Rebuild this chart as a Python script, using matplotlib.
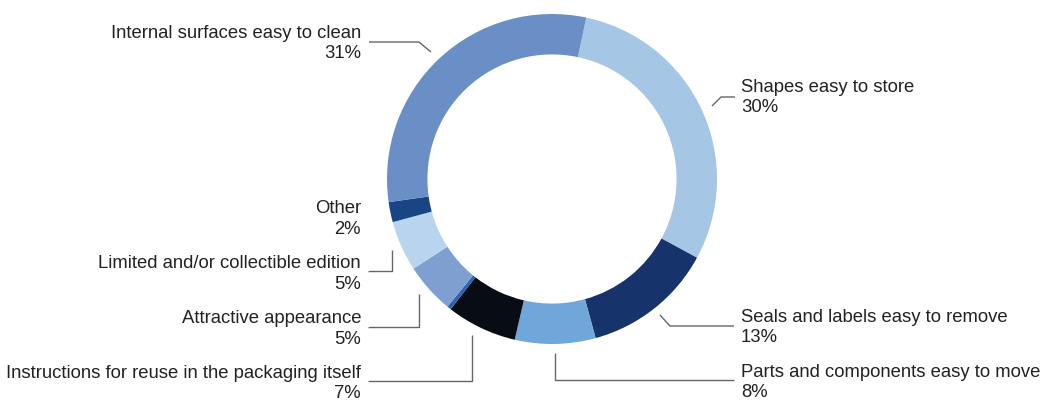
import matplotlib
matplotlib.use("Agg")
import matplotlib.pyplot as plt

# Segments listed clockwise, starting at the top right
categories = [
    "Shapes easy to store",
    "Seals and labels easy to remove",
    "Parts and components easy to move",
    "Instructions for reuse in the packaging itself",
    "",
    "Attractive appearance",
    "Limited and/or collectible edition",
    "Other",
    "Internal surfaces easy to clean",
]
values = [30, 13, 8, 7, 0.4, 5, 5, 2, 31]
pct_labels = ["30%", "13%", "8%", "7%", "", "5%", "5%", "2%", "31%"]
colors = ["#a6c6e5", "#17336b", "#6fa7da", "#080c14", "#2f64b0",
          "#7f9fd0", "#b9d4ef", "#1a4584", "#6a8fc6"]

W, H = 1041, 401
fig = plt.figure(figsize=(W / 100, H / 100), dpi=100)
ax = fig.add_axes([0, 0, 1, 1])

def Y(y):
    return H - y

cx, cy, R = 552, 179, 165
ax.pie(values, colors=colors, startangle=78, counterclock=False,
       center=(cx, Y(cy)), radius=R,
       wedgeprops=dict(width=R * 0.245, linewidth=0))
ax.set_xlim(0, W)
ax.set_ylim(0, H)
ax.set_aspect("equal")
ax.axis("off")

txt = dict(fontsize=13.3, color="#222222", family="Liberation Sans", va="baseline")
lc = dict(color="#666666", lw=1.0)

def label(i, x, y1, y2, ha):
    ax.text(x, Y(y1), categories[i], ha=ha, **txt)
    ax.text(x, Y(y2), pct_labels[i], ha=ha, **txt)

def leader(pts):
    xs = [p[0] for p in pts]
    ys = [Y(p[1]) for p in pts]
    ax.plot(xs, ys, solid_capstyle="butt", **lc)

# Right side
label(0, 741, 92, 112, "left")
leader([(712, 106), (721, 97), (735, 97)])
label(1, 741, 322, 342, "left")
leader([(660, 315), (670, 326), (734, 326)])
label(2, 741, 377, 397, "left")
leader([(555, 353), (555, 380), (734, 380)])

# Left side
label(8, 361, 38, 58, "right")
leader([(369, 42), (419, 42), (431, 52)])
label(7, 361, 213, 234, "right")
label(6, 361, 268, 289, "right")
leader([(368, 271), (392, 271), (392, 250)])
label(5, 361, 323, 344, "right")
leader([(368, 327), (419, 327), (419, 294)])
label(3, 361, 378, 398, "right")
leader([(368, 381), (472, 381), (472, 335)])

fig.savefig("out.png", dpi=100, facecolor="white")
